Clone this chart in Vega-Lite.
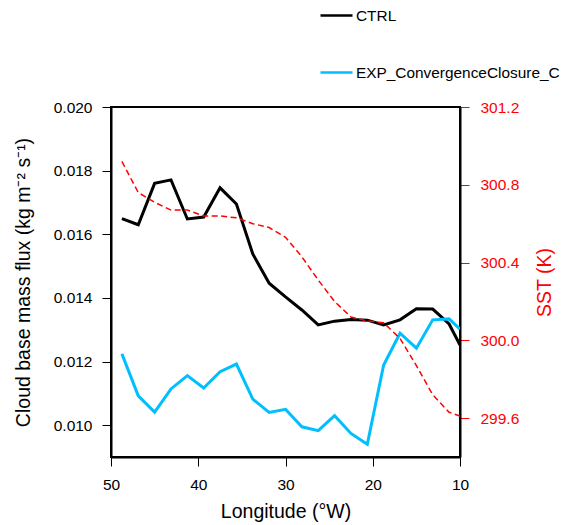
{
  "$schema": "https://vega.github.io/schema/vega-lite/v6.json",
  "autosize": "none",
  "width": 349,
  "height": 350,
  "padding": {"left": 111, "top": 107, "right": 106, "bottom": 68},
  "config": {
    "font": "Liberation Sans",
    "view": {"stroke": "black", "strokeWidth": 2},
    "axis": {"grid": false, "labelFont": "Liberation Sans", "titleFont": "Liberation Sans", "labelFontSize": 15.5, "titleFontSize": 19.5, "titleFontWeight": "normal", "tickSize": 9, "tickColor": "black", "domainColor": "black", "domainWidth": 2, "labelColor": "black", "titleColor": "black", "labelFlush": false}
  },
  "datasets": {
    "flux": [
      {"lon": 48.75, "series": "CTRL", "flux": 0.01649},
      {"lon": 46.875, "series": "CTRL", "flux": 0.01630},
      {"lon": 45, "series": "CTRL", "flux": 0.01760},
      {"lon": 43.125, "series": "CTRL", "flux": 0.01771},
      {"lon": 41.25, "series": "CTRL", "flux": 0.01648},
      {"lon": 39.375, "series": "CTRL", "flux": 0.01654},
      {"lon": 37.5, "series": "CTRL", "flux": 0.01746},
      {"lon": 35.625, "series": "CTRL", "flux": 0.01695},
      {"lon": 33.75, "series": "CTRL", "flux": 0.01538},
      {"lon": 31.875, "series": "CTRL", "flux": 0.01446},
      {"lon": 30, "series": "CTRL", "flux": 0.01403},
      {"lon": 28.125, "series": "CTRL", "flux": 0.01362},
      {"lon": 26.25, "series": "CTRL", "flux": 0.01315},
      {"lon": 24.375, "series": "CTRL", "flux": 0.01327},
      {"lon": 22.5, "series": "CTRL", "flux": 0.01332},
      {"lon": 20.625, "series": "CTRL", "flux": 0.01330},
      {"lon": 18.75, "series": "CTRL", "flux": 0.01315},
      {"lon": 16.875, "series": "CTRL", "flux": 0.01331},
      {"lon": 15, "series": "CTRL", "flux": 0.01366},
      {"lon": 13.125, "series": "CTRL", "flux": 0.01365},
      {"lon": 11.25, "series": "CTRL", "flux": 0.01318},
      {"lon": 10, "series": "CTRL", "flux": 0.01252},
      {"lon": 48.75, "series": "EXP_ConvergenceClosure_C", "flux": 0.01224},
      {"lon": 46.875, "series": "EXP_ConvergenceClosure_C", "flux": 0.01092},
      {"lon": 45, "series": "EXP_ConvergenceClosure_C", "flux": 0.01041},
      {"lon": 43.125, "series": "EXP_ConvergenceClosure_C", "flux": 0.01114},
      {"lon": 41.25, "series": "EXP_ConvergenceClosure_C", "flux": 0.01156},
      {"lon": 39.375, "series": "EXP_ConvergenceClosure_C", "flux": 0.01117},
      {"lon": 37.5, "series": "EXP_ConvergenceClosure_C", "flux": 0.01168},
      {"lon": 35.625, "series": "EXP_ConvergenceClosure_C", "flux": 0.01192},
      {"lon": 33.75, "series": "EXP_ConvergenceClosure_C", "flux": 0.01082},
      {"lon": 31.875, "series": "EXP_ConvergenceClosure_C", "flux": 0.01040},
      {"lon": 30, "series": "EXP_ConvergenceClosure_C", "flux": 0.01050},
      {"lon": 28.125, "series": "EXP_ConvergenceClosure_C", "flux": 0.00995},
      {"lon": 26.25, "series": "EXP_ConvergenceClosure_C", "flux": 0.00983},
      {"lon": 24.375, "series": "EXP_ConvergenceClosure_C", "flux": 0.01030},
      {"lon": 22.5, "series": "EXP_ConvergenceClosure_C", "flux": 0.00974},
      {"lon": 20.625, "series": "EXP_ConvergenceClosure_C", "flux": 0.00940},
      {"lon": 18.75, "series": "EXP_ConvergenceClosure_C", "flux": 0.01189},
      {"lon": 16.875, "series": "EXP_ConvergenceClosure_C", "flux": 0.01289},
      {"lon": 15, "series": "EXP_ConvergenceClosure_C", "flux": 0.01242},
      {"lon": 13.125, "series": "EXP_ConvergenceClosure_C", "flux": 0.01331},
      {"lon": 11.25, "series": "EXP_ConvergenceClosure_C", "flux": 0.01334},
      {"lon": 10, "series": "EXP_ConvergenceClosure_C", "flux": 0.01302}
    ],
    "sst": [
      {"lon": 48.75, "sst": 300.92},
      {"lon": 46.875, "sst": 300.76},
      {"lon": 45, "sst": 300.71},
      {"lon": 43.125, "sst": 300.67},
      {"lon": 41.25, "sst": 300.67},
      {"lon": 39.375, "sst": 300.64},
      {"lon": 37.5, "sst": 300.64},
      {"lon": 35.625, "sst": 300.63},
      {"lon": 33.75, "sst": 300.60},
      {"lon": 31.875, "sst": 300.58},
      {"lon": 30, "sst": 300.53},
      {"lon": 28.125, "sst": 300.43},
      {"lon": 26.25, "sst": 300.31},
      {"lon": 24.375, "sst": 300.20},
      {"lon": 22.5, "sst": 300.12},
      {"lon": 20.625, "sst": 300.10},
      {"lon": 18.75, "sst": 300.09},
      {"lon": 16.875, "sst": 300.01},
      {"lon": 15, "sst": 299.87},
      {"lon": 13.125, "sst": 299.72},
      {"lon": 11.25, "sst": 299.63},
      {"lon": 10, "sst": 299.61}
    ]
  },
  "layer": [
    {
      "data": {"name": "flux"},
      "mark": {"type": "line", "strokeWidth": 3, "clip": true},
      "encoding": {
        "x": {"field": "lon", "type": "quantitative", "scale": {"domain": [50, 10], "nice": false, "zero": false},
              "axis": {"values": [50, 40, 30, 20, 10], "title": "Longitude (°W)", "labelPadding": 11, "titlePadding": 10}},
        "y": {"field": "flux", "type": "quantitative", "scale": {"domain": [0.009, 0.020], "nice": false, "zero": false},
              "axis": {"values": [0.010, 0.012, 0.014, 0.016, 0.018, 0.020], "format": ".3f", "title": "Cloud base mass flux (kg m⁻² s⁻¹)", "labelPadding": 10, "titlePadding": 20}},
        "color": {"field": "series", "type": "nominal",
                  "scale": {"domain": ["CTRL", "EXP_ConvergenceClosure_C"], "range": ["#000000", "#00BFFF"]},
                  "legend": {"title": null, "orient": "none", "legendX": 208, "legendY": -109, "symbolType": "stroke", "symbolSize": 1024, "symbolStrokeWidth": 2.5, "rowPadding": 31, "labelFontSize": 15.4, "labelFont": "Liberation Sans", "labelOffset": 2, "labelLimit": 0, "labelColor": "black", "padding": 0}}
      }
    },
    {
      "data": {"name": "sst"},
      "mark": {"type": "line", "strokeWidth": 1.5, "color": "red", "strokeDash": [6, 3.5], "clip": true},
      "encoding": {
        "x": {"field": "lon", "type": "quantitative"},
        "y": {"field": "sst", "type": "quantitative", "scale": {"domain": [299.4, 301.2], "nice": false, "zero": false},
              "axis": {"orient": "right", "values": [299.6, 300.0, 300.4, 300.8, 301.2], "format": ".1f", "title": "SST (K)", "titleAngle": 270, "titleBaseline": "top", "labelColor": "red", "tickColor": "red", "titleColor": "red", "labelPadding": 11, "titlePadding": 17}}
      }
    }
  ],
  "resolve": {"scale": {"y": "independent"}}
}
